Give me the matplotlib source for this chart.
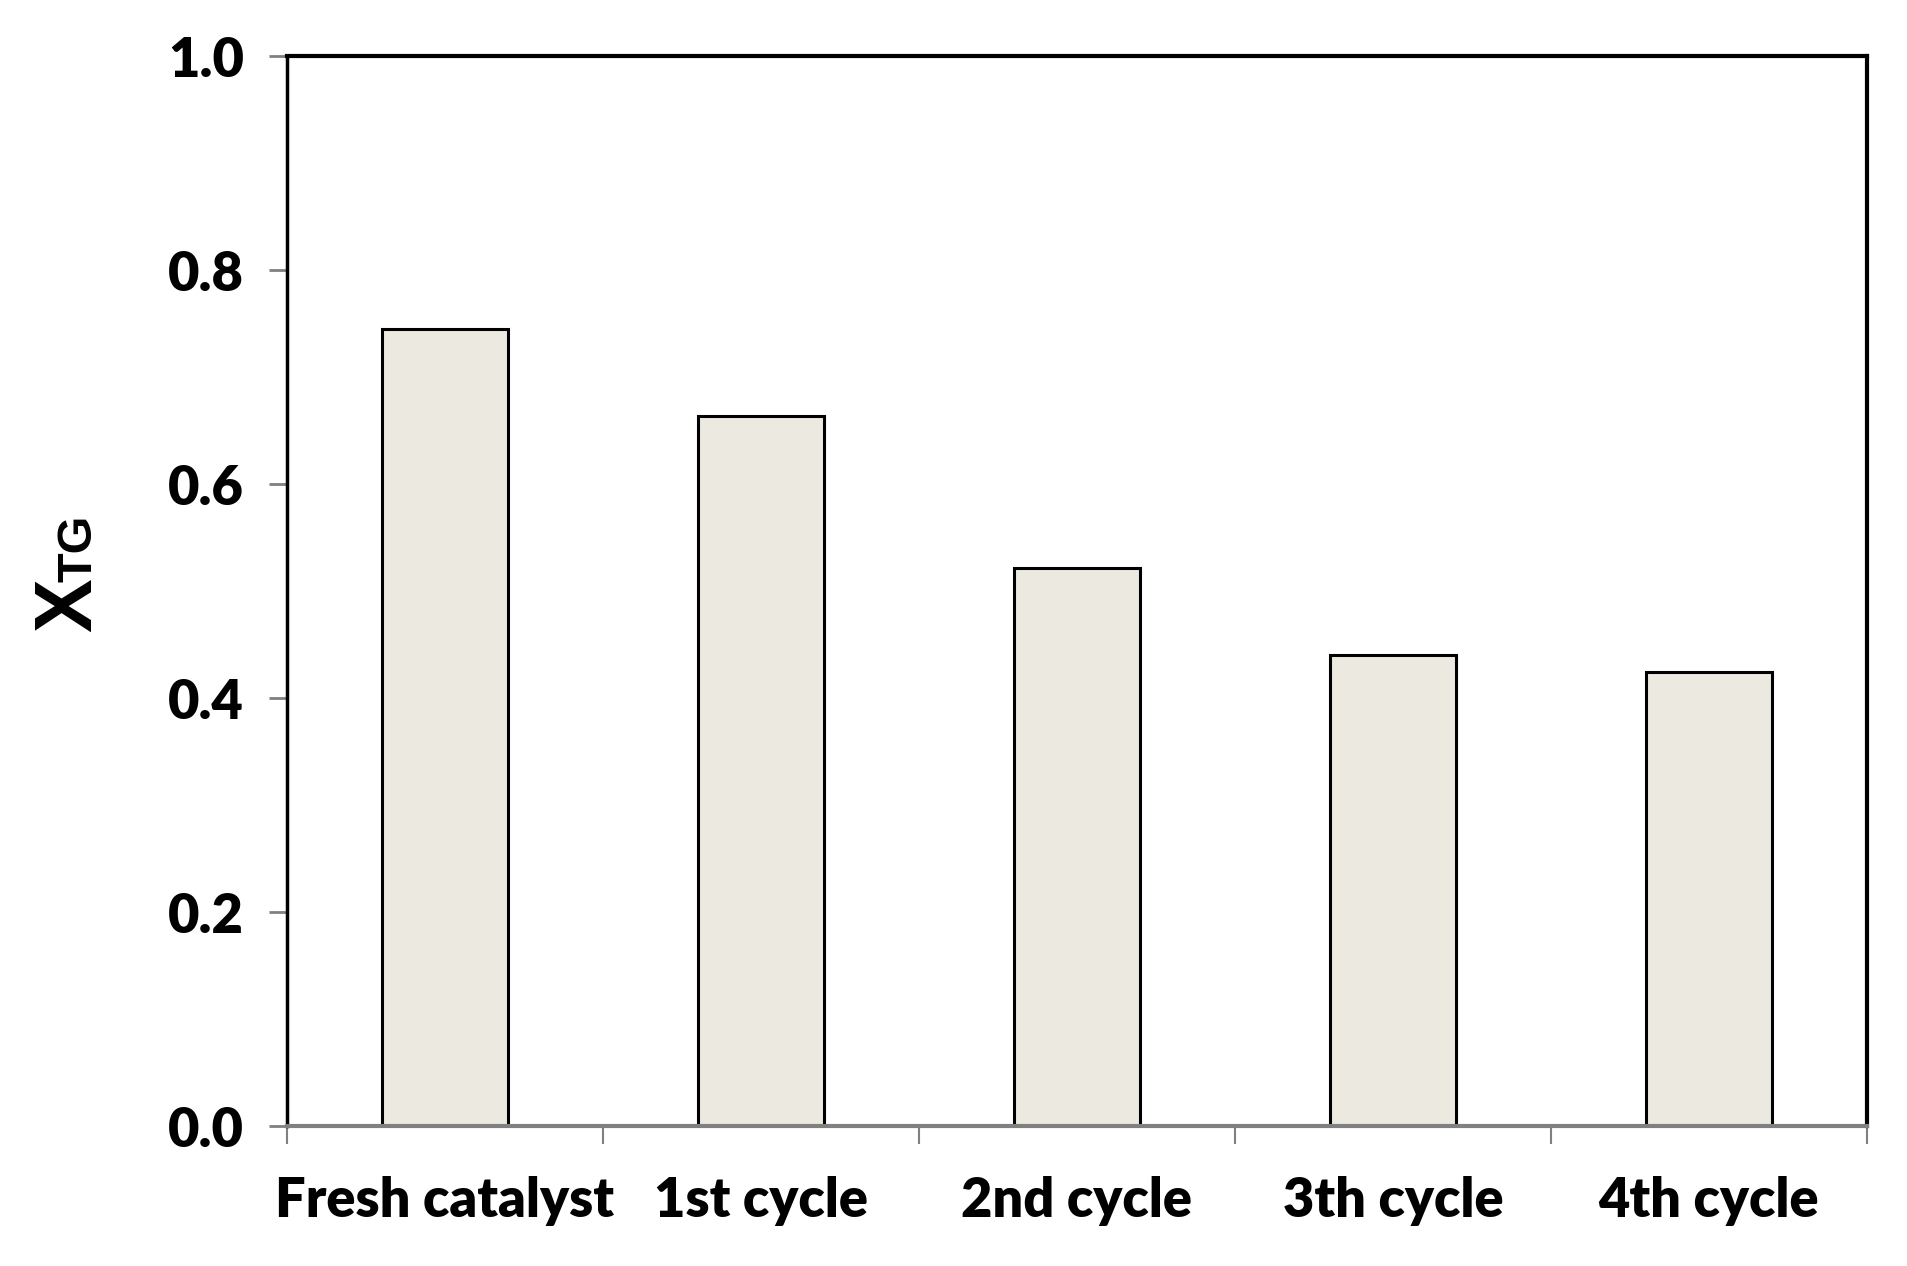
import matplotlib
matplotlib.use("Agg")
import matplotlib.pyplot as plt
import numpy as np

categories = ["Fresh catalyst", "1st cycle", "2nd cycle", "3th cycle", "4th cycle"]
x_tg = [0.745, 0.664, 0.522, 0.440, 0.424]
y_ticks = [0.0, 0.2, 0.4, 0.6, 0.8, 1.0]

fig = plt.figure(figsize=(19.07, 12.66), dpi=100)
ax = fig.add_axes([0.1505, 0.1105, 0.8285, 0.8452])

pos = np.arange(len(categories))
ax.bar(pos, x_tg, width=0.40, color="#ECEAE0", edgecolor="black", linewidth=2.2, zorder=2)

ax.set_xlim(-0.5, len(categories) - 0.5)
ax.set_ylim(0, 1.0)

# boundary ticks (unlabelled) + centred labels on minor ticks
ax.set_xticks(np.arange(-0.5, len(categories)), labels=[""] * (len(categories) + 1))
ax.set_xticks(pos, labels=categories, minor=True)
ax.tick_params(axis="x", which="major", direction="out", length=13, width=1.5,
               color="#808080")
ax.tick_params(axis="x", which="minor", length=0, pad=36)

ax.set_yticks(y_ticks, labels=[f"{v:.1f}" for v in y_ticks])
ax.tick_params(axis="y", direction="out", length=13, width=2, color="#808080", pad=18)

for t in ax.get_xticklabels(minor=True) + ax.get_yticklabels():
    t.set_fontfamily("Lato")
    t.set_fontweight("heavy")
    t.set_fontsize(39)

for s in ["top", "right", "left"]:
    ax.spines[s].set_color("black")
    ax.spines[s].set_linewidth(3)
ax.spines["left"].set_linewidth(2.5)
ax.spines["bottom"].set_color("#808080")
ax.spines["bottom"].set_linewidth(3)

# y label: X with TG sitting on the baseline
fig.text(91 / 1907, 1 - 632 / 1266, "X", rotation=90, rotation_mode="anchor",
         ha="left", va="baseline", fontsize=58, fontweight="bold",
         family="Liberation Sans")
fig.text(92 / 1907, 1 - 582 / 1266, "TG", rotation=90, rotation_mode="anchor",
         ha="left", va="baseline", fontsize=35, fontweight="bold",
         family="Liberation Sans")

fig.savefig("out.png", dpi=100)
